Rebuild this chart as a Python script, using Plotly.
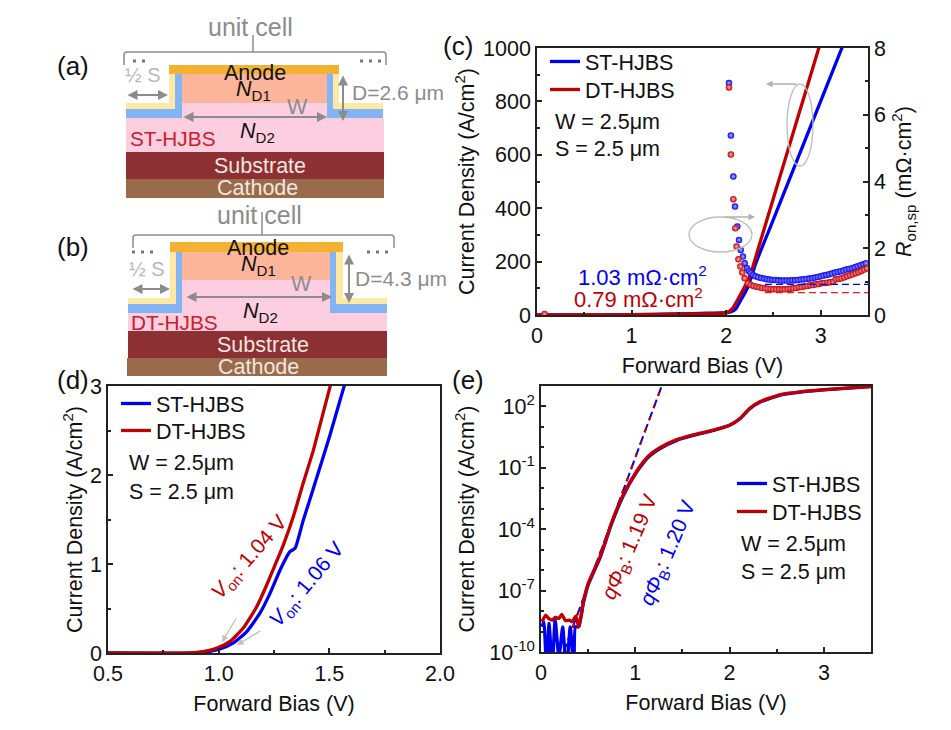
import plotly.graph_objects as go

# panel (c) current density
c_st_v = [0, 0.5, 1.0, 1.5, 1.8, 2.0, 2.06, 2.1, 2.146, 2.23, 2.315, 2.46, 2.6, 2.8, 3.0, 3.224, 3.5]
c_st_j = [0, 0.3, 1, 4, 7, 9, 13, 22, 50, 105, 195, 323, 447, 624, 801, 1000, 1245]
c_dt_v = [0, 0.5, 1.0, 1.5, 2.0, 2.07, 2.16, 2.25, 2.357, 2.48, 2.67, 2.83, 2.98, 3.5]
c_dt_j = [0, 0.3, 1, 4, 8, 26, 82, 145, 270, 414, 637, 824, 1000, 1610]

# panel (c) specific on-resistance
ron_st_v = [2.03, 2.05, 2.076, 2.094, 2.118, 2.136, 2.154, 2.178, 2.196, 2.22, 2.24, 2.26, 2.284,
            2.31, 2.34, 2.37, 2.40, 2.43, 2.46, 2.49, 2.52, 2.55, 2.58, 2.61, 2.64, 2.67, 2.70, 2.73, 2.76,
            2.79, 2.82, 2.85, 2.88, 2.91, 2.94, 2.97, 3.0, 3.03, 3.06, 3.09, 3.12, 3.15, 3.18, 3.21, 3.24,
            3.27, 3.3, 3.33, 3.36, 3.39, 3.42, 3.45, 3.48]
ron_st = [6.95, 5.38, 4.15, 3.25, 2.65, 2.25, 1.95, 1.75, 1.55, 1.40, 1.32, 1.26, 1.20,
          1.16, 1.13, 1.11, 1.09, 1.07, 1.06, 1.05, 1.05, 1.04, 1.03, 1.03, 1.03, 1.03, 1.04, 1.04, 1.05,
          1.06, 1.07, 1.08, 1.09, 1.10, 1.12, 1.14, 1.16, 1.18, 1.20, 1.22, 1.24, 1.27, 1.29, 1.31, 1.33,
          1.36, 1.38, 1.40, 1.43, 1.46, 1.49, 1.52, 1.55]
ron_dt_v = [0.08, 2.03, 2.05, 2.076, 2.097, 2.11, 2.13, 2.15, 2.17, 2.196, 2.23, 2.26, 2.29, 2.32,
            2.35, 2.38, 2.41, 2.44, 2.47, 2.50, 2.53, 2.56, 2.59, 2.62, 2.65, 2.68, 2.71, 2.74, 2.77,
            2.80, 2.83, 2.86, 2.89, 2.92, 2.95, 2.98, 3.01, 3.04, 3.07, 3.10, 3.13, 3.16, 3.19, 3.22,
            3.25, 3.28, 3.31, 3.34, 3.37, 3.40, 3.43, 3.46, 3.49]
ron_dt = [0.03, 6.82, 4.81, 3.47, 2.6, 2.05, 1.67, 1.45, 1.27, 1.10, 0.95, 0.90, 0.87, 0.85,
          0.83, 0.81, 0.80, 0.79, 0.78, 0.77, 0.77, 0.77, 0.77, 0.77, 0.78, 0.79, 0.80, 0.81, 0.83,
          0.84, 0.86, 0.87, 0.89, 0.90, 0.92, 0.93, 0.95, 0.96, 0.97, 0.98, 1.00, 1.07, 1.08, 1.10,
          1.13, 1.16, 1.19, 1.22, 1.25, 1.28, 1.32, 1.36, 1.40]
fit_st_v = [2.41, 3.5]
fit_st_r = [0.92, 0.92]
fit_dt_v = [2.41, 3.5]
fit_dt_r = [0.67, 0.67]

# panel (d) turn-on region
d_st_v = [0.5, 0.885, 0.945, 1.006, 1.065, 1.127, 1.187, 1.232, 1.277, 1.322, 1.345, 1.382, 1.428, 1.503, 1.566, 1.6]
d_st_j = [0, 0.002, 0.012, 0.045, 0.11, 0.24, 0.45, 0.67, 0.93, 1.138, 1.176, 1.49, 1.85, 2.45, 2.99, 3.25]
d_dt_v = [0.5, 0.87, 0.93, 0.99, 1.05, 1.111, 1.172, 1.217, 1.255, 1.292, 1.337, 1.382, 1.428, 1.503, 1.55]
d_dt_j = [0, 0.002, 0.015, 0.053, 0.127, 0.28, 0.52, 0.764, 0.99, 1.213, 1.53, 1.91, 2.28, 2.99, 3.4]

# panel (e) log scale
e_st_v = [0.01, 0.03, 0.06, 0.085, 0.12, 0.15, 0.19, 0.23, 0.27, 0.31, 0.35, 0.365, 0.40, 0.45, 0.50, 0.63, 0.75,
          0.875, 1.016, 1.14, 1.26, 1.44, 1.615, 1.83, 2.0, 2.11, 2.215, 2.32, 2.53, 2.81, 3.0, 3.5]
e_st_j = [1.7e-9, 3e-9, 1e-11, 2.5e-9, 2e-11, 4e-9, 5e-11, 1.7e-9, 1e-11, 1.7e-9, 1e-11, 1.7e-9, 1.7e-9, 2.5e-8, 1.9e-7, 4.5e-6, 1.9e-4,
          4.6e-3, 6.3e-2, 3.4e-1, 8.6e-1, 2.2, 3.8, 6.8, 1.2e1, 2.5e1, 7.8e1, 1.6e2, 3.5e2, 5.4e2, 6.5e2, 9.3e2]
e_dt_v = [0.01, 0.05, 0.08, 0.12, 0.15, 0.19, 0.22, 0.26, 0.30, 0.33, 0.37, 0.40, 0.45, 0.50, 0.63, 0.75,
          0.875, 1.016, 1.14, 1.26, 1.44, 1.615, 1.83, 2.0, 2.11, 2.215, 2.32, 2.53, 2.81, 3.0, 3.5]
e_dt_j = [3e-9, 6.3e-9, 4.4e-9, 3.6e-9, 4.9e-9, 4.4e-9, 6.9e-9, 3.4e-9, 3.6e-9, 3e-9, 5.6e-9, 1.7e-9, 3e-8, 2.2e-7, 5e-6, 2.2e-4,
          5.2e-3, 7e-2, 3.8e-1, 9.6e-1, 2.4, 4.1, 7, 1.2e1, 2.6e1, 8.2e1, 1.7e2, 3.7e2, 5.6e2, 6.7e2, 9.5e2]
e_fit_v = [0.24, 1.28]
e_fit_j = [1e-10, 1e3]

e_major = [1e2, 1e-1, 1e-4, 1e-7, 1e-10]
e_major_text = ["10<sup>2</sup>", "10<sup>-1</sup>", "10<sup>-4</sup>", "10<sup>-7</sup>", "10<sup>-10</sup>"]
e_minor = [1e3, 1e1, 1e0, 1e-2, 1e-3, 1e-5, 1e-6, 1e-8, 1e-9]

BLUE = "#0000f0"
RED = "#c00000"
GREY = "#8c8c8c"
LIGHT = "#c0c0c0"
FONT = "Liberation Sans"
# the page body keeps its 8px margin, so the figure is 8px smaller and coordinates are shifted
PAGE = 8
W, H = 951 - PAGE, 730 - PAGE
SIZE = 21.5


def px(x):
    return (x - PAGE) / W


def py(y):
    return 1 - (y - PAGE) / H


fig = go.Figure()

curve = dict(mode="lines", line_shape="spline", line_smoothing=0.5, line_width=3.3)

# curves
fig.add_trace(go.Scatter(x=c_st_v, y=c_st_j, name="ST-HJBS", line_color=BLUE, legend="legend", **curve))
fig.add_trace(go.Scatter(x=c_dt_v, y=c_dt_j, name="DT-HJBS", line_color=RED, legend="legend2", **curve))
fig.add_trace(go.Scatter(x=ron_st_v, y=ron_st, yaxis="y2", mode="markers", showlegend=False,
                         marker=dict(size=6.5, color=BLUE, gradient=dict(type="radial", color="#b4b4ff"))))
fig.add_trace(go.Scatter(x=ron_dt_v, y=ron_dt, yaxis="y2", mode="markers", showlegend=False,
                         marker=dict(size=6.5, color=RED, gradient=dict(type="radial", color="#ffb4b4"))))
fig.add_trace(go.Scatter(x=fit_st_v, y=fit_st_r, yaxis="y2", mode="lines", showlegend=False,
                         line=dict(color=BLUE, width=1.3, dash="7px,4px")))
fig.add_trace(go.Scatter(x=fit_dt_v, y=fit_dt_r, yaxis="y2", mode="lines", showlegend=False,
                         line=dict(color="#e02020", width=1.3, dash="7px,4px")))

fig.add_trace(go.Scatter(x=d_st_v, y=d_st_j, name="ST-HJBS", xaxis="x2", yaxis="y3", line_color=BLUE,
                         legend="legend3", **curve))
fig.add_trace(go.Scatter(x=d_dt_v, y=d_dt_j, name="DT-HJBS", xaxis="x2", yaxis="y3", line_color=RED,
                         legend="legend4", **curve))

fig.add_trace(go.Scatter(x=e_fit_v, y=e_fit_j, xaxis="x3", yaxis="y4", mode="lines", showlegend=False,
                         line=dict(color=BLUE, width=2, dash="9px,4px")))
fig.add_trace(go.Scatter(x=e_fit_v, y=e_fit_j, xaxis="x3", yaxis="y4", mode="lines", showlegend=False,
                         line=dict(color=RED, width=2, dash="4px,9px")))
fig.add_trace(go.Scatter(x=e_st_v, y=e_st_j, name="ST-HJBS", xaxis="x3", yaxis="y4", line_color=BLUE,
                         legend="legend5", **curve))
fig.add_trace(go.Scatter(x=e_dt_v, y=e_dt_j, name="DT-HJBS", xaxis="x3", yaxis="y4", line_color=RED,
                         legend="legend6", **curve))

axis_style = dict(showline=True, linecolor="#222", linewidth=1.5, mirror=True, ticks="inside", ticklen=5,
                  tickwidth=1.5, tickcolor="#222", showgrid=False, zeroline=False, automargin=False,
                  tickfont=dict(family=FONT, size=SIZE, color="#111"))


def axis_title(text, standoff):
    return dict(text=text, font=dict(family=FONT, size=SIZE, color="#111"), standoff=standoff)


def legend_at(x, y):
    # y is the middle of the entry, the entry sits 22px under the legend top
    return dict(x=px(x), y=py(y - 22), xanchor="left", yanchor="top", bgcolor="rgba(0,0,0,0)")


minor_x = dict(ticks="inside", ticklen=3, tickwidth=1.5, tickcolor="#222", showgrid=False)
JTITLE = "Current Density (A/cm<sup>2</sup>)"

fig.update_layout(
    width=W, height=H, margin=dict(l=0, r=0, t=0, b=0),
    paper_bgcolor="white", plot_bgcolor="rgba(0,0,0,0)",
    font=dict(family=FONT, size=SIZE, color="#111"),
    xaxis=dict(domain=[px(537), px(868)], range=[0, 3.5], dtick=1, anchor="y",
               minor=dict(dtick=0.5, **minor_x), title=axis_title("Forward Bias (V)", 11), **axis_style),
    yaxis=dict(domain=[py(315), py(48)], range=[0, 1000], dtick=200, anchor="x",
               minor=dict(dtick=100, **minor_x), title=axis_title(JTITLE, 3), **axis_style),
    yaxis2=dict(domain=[py(315), py(48)], range=[0, 8], dtick=2, overlaying="y", side="right", anchor="x",
                minor=dict(dtick=1, **minor_x), title=axis_title("<i>R</i><sub>on,sp</sub> (mΩ·cm<sup>2</sup>)", 11),
                **{**axis_style, "mirror": False}),
    xaxis2=dict(domain=[px(108), px(440)], range=[0.5, 2.0], dtick=0.5, tickformat=".1f", anchor="y3",
                minor=dict(dtick=0.25, **minor_x), title=axis_title("Forward Bias (V)", 11), **axis_style),
    yaxis3=dict(domain=[py(653), py(386)], range=[0, 3], dtick=1, anchor="x2",
                minor=dict(dtick=0.5, **minor_x), title=axis_title(JTITLE, 1), **axis_style),
    xaxis3=dict(domain=[px(541), px(871)], range=[0, 3.5], dtick=1, anchor="y4",
                minor=dict(dtick=0.5, **minor_x), title=axis_title("Forward Bias (V)", 11), **axis_style),
    yaxis4=dict(domain=[py(652), py(386)], type="log", range=[-10, 3], tickmode="array",
                tickvals=e_major, ticktext=e_major_text, anchor="x3",
                minor=dict(tickmode="array", tickvals=e_minor, **minor_x), title=axis_title(JTITLE, 9), **axis_style),
    legend=legend_at(545, 63), legend2=legend_at(545, 91),
    legend3=legend_at(116, 405), legend4=legend_at(116, 432),
    legend5=legend_at(732, 485), legend6=legend_at(732, 513),
)

# schematic blocks: x0, y0, x1, y1, colour
ANODE, SALMON, PINK = "#f4b233", "#fcb49a", "#fdcde0"
TRENCH, LINER, SUB, CATH = "#83b5f5", "#fde9a4", "#8c3033", "#996b4a"
blocks_a = [
    (126, 118, 384, 152, PINK), (181, 103, 327, 118, PINK), (181, 74, 327, 103, SALMON),
    (126, 103, 175, 109, LINER), (169, 74, 175, 109, LINER), (333, 74, 339, 109, LINER), (333, 103, 383, 109, LINER),
    (126, 109, 182, 118, TRENCH), (175, 74, 182, 118, TRENCH), (327, 74, 333, 118, TRENCH), (327, 109, 383, 118, TRENCH),
    (169, 65, 339, 74, ANODE), (126, 152, 384, 179, SUB), (126, 179, 384, 198, CATH),
]
blocks_b = [
    (128, 303, 387, 331, PINK), (182, 280, 330, 303, PINK), (182, 252, 330, 280, SALMON),
    (128, 298, 176, 304, LINER), (170, 252, 176, 304, LINER), (336, 252, 343, 304, LINER), (336, 298, 387, 304, LINER),
    (128, 304, 182, 313, TRENCH), (176, 252, 182, 313, TRENCH), (330, 252, 336, 313, TRENCH), (330, 304, 387, 313, TRENCH),
    (170, 242, 343, 252, ANODE), (128, 331, 387, 358, SUB), (127, 358, 387, 376, CATH),
]
for x0, y0, x1, y1, colour in blocks_a + blocks_b:
    fig.add_shape(type="rect", xref="paper", yref="paper", x0=px(x0), x1=px(x1), y0=py(y0), y1=py(y1),
                  fillcolor=colour, line_width=0, layer="below")

# unit cell brackets and dots
for xl, xr, top, foot, xm, tip in [(124, 386, 52, 65, 253, 35), (133, 394, 235, 248, 262, 212)]:
    path = (f"M {px(xl)} {py(foot)} L {px(xl)} {py(top + 3)} Q {px(xl)} {py(top)} {px(xl + 3)} {py(top)} "
            f"L {px(xr - 3)} {py(top)} Q {px(xr)} {py(top)} {px(xr)} {py(top + 3)} L {px(xr)} {py(foot)}")
    fig.add_shape(type="path", path=path, xref="paper", yref="paper", line=dict(color=GREY, width=1.5))
    fig.add_shape(type="line", xref="paper", yref="paper", x0=px(xm), x1=px(xm), y0=py(top), y1=py(tip),
                  line=dict(color=GREY, width=1.5))
for x0, x1, y in [(133, 150, 61), (360, 384, 61), (132, 156, 252), (367, 392, 252)]:
    fig.add_shape(type="line", xref="paper", yref="paper", x0=px(x0), x1=px(x1), y0=py(y), y1=py(y),
                  line=dict(color="#777", width=3, dash="3px,6px"))

# ellipses of panel (c)
for x0, x1, y0, y1 in [(787, 813, 84, 166), (689, 752, 217, 252)]:
    fig.add_shape(type="circle", xref="paper", yref="paper", x0=px(x0), x1=px(x1), y0=py(y0), y1=py(y1),
                  line=dict(color="#bdbdbd", width=1.3))


def arrow(x0, y0, x1, y1, colour=GREY, both=False, width=2):
    fig.add_annotation(x=px(x1), y=py(y1), ax=x0 - x1, ay=y0 - y1, xref="paper", yref="paper", text="",
                       showarrow=True, arrowhead=2, arrowsize=1, arrowwidth=width, arrowcolor=colour,
                       arrowside="end+start" if both else "end")


arrow(126, 95, 168, 95, both=True)
arrow(182, 117, 327, 117, both=True)
arrow(343, 74, 343, 121, both=True)
arrow(131, 289, 170, 289, both=True)
arrow(185, 297, 332, 297, both=True)
arrow(349, 253, 349, 303, both=True)
arrow(798, 84, 766, 84, colour="#b0b0b0", width=1.3)
arrow(723, 217, 755, 217, colour="#b0b0b0", width=1.3)
arrow(237, 617, 222, 642, colour=LIGHT, width=1.3)
arrow(262, 630, 237, 645, colour=LIGHT, width=1.3)


def label(x, y, text, colour="#111", size=SIZE, anchor="center", angle=0):
    if anchor == "left":
        x -= 2  # annotations keep a little padding
    fig.add_annotation(x=px(x), y=py(y), xref="paper", yref="paper", text=text, showarrow=False, xanchor=anchor,
                       yanchor="middle", textangle=angle, font=dict(family=FONT, size=size, color=colour))


SCH = "#c8202c"
PALE = "#f0e6e0"
labels = [
    (57, 66, "(a)", "#111", 26, "left"), (57, 247, "(b)", "#111", 26, "left"), (443, 46, "(c)", "#111", 26, "left"),
    (57, 380, "(d)", "#111", 26, "left"), (452, 380, "(e)", "#111", 26, "left"),
    (251, 27, "unit cell", GREY, 25, "center"), (259, 215, "unit cell", GREY, 25, "center"),
    (143, 75, "½ S", "#b8b8b8", 20, "center"), (147, 269, "½ S", "#b8b8b8", 20, "center"),
    (352, 92, "D=2.6 μm", GREY, 21, "left"), (355, 278, "D=4.3 μm", GREY, 21, "left"),
    (297, 107, "W", GREY, 21.5, "center"), (301, 284, "W", GREY, 21.5, "center"),
    (255, 73, "Anode", "#111", 21.5, "center"), (258, 248, "Anode", "#111", 21.5, "center"),
    (253, 90, "<i>N</i><sub>D1</sub>", "#111", 21.5, "center"), (258, 266, "<i>N</i><sub>D1</sub>", "#111", 21.5, "center"),
    (257, 132, "<i>N</i><sub>D2</sub>", "#111", 21.5, "center"), (260, 312, "<i>N</i><sub>D2</sub>", "#111", 21.5, "center"),
    (130, 138, "ST-HJBS", SCH, 20.8, "left"), (131, 322, "DT-HJBS", SCH, 20.8, "left"),
    (260, 166, "Substrate", PALE, 21.5, "center"), (263, 345, "Substrate", PALE, 21.5, "center"),
    (257, 188, "Cathode", PALE, 21.5, "center"), (258, 367, "Cathode", PALE, 21.5, "center"),
    (555, 122, "W = 2.5μm", "#111", SIZE, "left"), (555, 149, "S = 2.5 μm", "#111", SIZE, "left"),
    (578, 276, "1.03 mΩ·cm<sup>2</sup>", BLUE, 22, "left"), (574, 298, "0.79 mΩ·cm<sup>2</sup>", RED, 22, "left"),
    (129, 463, "W = 2.5μm", "#111", SIZE, "left"), (129, 492, "S = 2.5 μm", "#111", SIZE, "left"),
    (741, 544, "W = 2.5μm", "#111", SIZE, "left"), (741, 572, "S = 2.5 μm", "#111", SIZE, "left"),
]
for x, y, text, colour, size, anchor in labels:
    label(x, y, text, colour, size, anchor)

label(250, 557, "<i>V</i><sub>on</sub>: 1.04 V", RED, 21, angle=-49)
label(307, 585, "<i>V</i><sub>on</sub>: 1.06 V", BLUE, 21, angle=-50)
label(630, 548, "<i>qΦ</i><sub>B</sub>: 1.19 V", RED, 21, angle=-67)
label(668, 554, "<i>qΦ</i><sub>B</sub>: 1.20 V", BLUE, 21, angle=-67)

fig.write_html("out.html")
